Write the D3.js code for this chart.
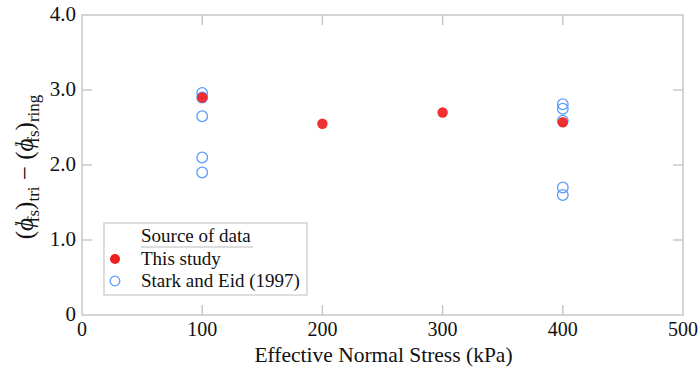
<!DOCTYPE html>
<html>
<head>
<meta charset="utf-8">
<script src="https://cdn.jsdelivr.net/npm/d3@7"></script>
</head>
<body style="margin:0; background:#fff">
<svg id="chart" width="700" height="375"></svg>
<script>
// data
const thisStudyStress = [100, 200, 300, 400];
const thisStudyDiff = [2.9, 2.55, 2.7, 2.57];
const starkStress = [100, 100, 100, 100, 100, 400, 400, 400, 400, 400];
const starkDiff = [2.96, 2.9, 2.65, 2.1, 1.9, 2.81, 2.75, 2.59, 1.7, 1.6];
const xTicks = [0, 100, 200, 300, 400, 500];
const yTicks = [0, 1, 2, 3, 4];

let svg = d3.select("svg#chart");
let mLeft = 82, mRight = 683, mTop = 15, mBottom = 315;

let x = d3.scaleLinear().domain([0, 500]).range([mLeft, mRight]);
let y = d3.scaleLinear().domain([0, 4]).range([mBottom, mTop]);

let frameColor = "#c8c8c8";
let textColor = "#111";
let serif = "Liberation Serif";
let tickLen = 10;

// frame
svg.append("rect")
  .attr("x", mLeft).attr("y", mTop)
  .attr("width", mRight - mLeft).attr("height", mBottom - mTop)
  .attr("fill", "none").attr("stroke", frameColor).attr("stroke-width", 1.5);

// inner ticks, all four sides
xTicks.slice(1, -1).forEach(function(t) {
  svg.append("line").attr("stroke", frameColor).attr("stroke-width", 1.5)
    .attr("x1", x(t)).attr("x2", x(t)).attr("y1", mBottom).attr("y2", mBottom - tickLen);
  svg.append("line").attr("stroke", frameColor).attr("stroke-width", 1.5)
    .attr("x1", x(t)).attr("x2", x(t)).attr("y1", mTop).attr("y2", mTop + tickLen);
});
yTicks.slice(1, -1).forEach(function(t) {
  svg.append("line").attr("stroke", frameColor).attr("stroke-width", 1.5)
    .attr("x1", mLeft).attr("x2", mLeft + tickLen).attr("y1", y(t)).attr("y2", y(t));
  svg.append("line").attr("stroke", frameColor).attr("stroke-width", 1.5)
    .attr("x1", mRight).attr("x2", mRight - tickLen).attr("y1", y(t)).attr("y2", y(t));
});

// tick labels
xTicks.forEach(function(t) {
  svg.append("text")
    .attr("x", x(t)).attr("y", mBottom + 21)
    .attr("font-family", serif)
    .attr("text-anchor", "middle").attr("font-size", 20).attr("fill", textColor)
    .text(t);
});
yTicks.forEach(function(t) {
  svg.append("text")
    .attr("x", mLeft - 6).attr("y", y(t) + 6)
    .attr("font-family", serif)
    .attr("text-anchor", "end").attr("font-size", 21).attr("fill", textColor)
    .text(t == 0 ? "0" : t.toFixed(1));
});

// axis titles
svg.append("text")
  .attr("x", (mLeft + mRight) / 2 + 1).attr("y", 362)
  .attr("font-family", serif)
  .attr("text-anchor", "middle").attr("font-size", 21.5).attr("fill", textColor)
  .text("Effective Normal Stress (kPa)");

let yl = svg.append("text")
  .attr("transform", "translate(33,167) rotate(-90)")
  .attr("font-family", serif)
  .attr("text-anchor", "middle").attr("font-size", 25).attr("fill", textColor);
yl.append("tspan").text("(");
yl.append("tspan").attr("font-style", "italic").text("\u03d5");
yl.append("tspan").attr("font-size", 13).attr("dy", -10).attr("dx", -8).text("\u2032");
yl.append("tspan").attr("font-size", 17).attr("dy", 16).attr("dx", 1).text("fs");
yl.append("tspan").attr("dy", -6).text(")");
yl.append("tspan").attr("font-size", 17).attr("dy", 6).text("tri");
yl.append("tspan").attr("dy", -6).text(" \u2212 (");
yl.append("tspan").attr("font-style", "italic").text("\u03d5");
yl.append("tspan").attr("font-size", 13).attr("dy", -10).attr("dx", -8).text("\u2032");
yl.append("tspan").attr("font-size", 17).attr("dy", 16).attr("dx", 1).text("fs");
yl.append("tspan").attr("dy", -6).text(")");
yl.append("tspan").attr("font-size", 17).attr("dy", 6).text("ring");

// Stark and Eid (1997), open circles
let blue = "#5b9bff";
svg.selectAll("circle.stark")
  .data(starkStress)
  .enter()
  .append("circle")
  .attr("class", "stark")
  .attr("cx", function(d) { return x(d); })
  .attr("cy", function(d, i) { return y(starkDiff[i]); })
  .attr("r", 5.3)
  .attr("fill", "none")
  .attr("stroke", blue)
  .attr("stroke-width", 1.3);

// this study, filled red
let red = "#f01e1e";
svg.selectAll("circle.study")
  .data(thisStudyStress)
  .enter()
  .append("circle")
  .attr("class", "study")
  .attr("cx", function(d) { return x(d); })
  .attr("cy", function(d, i) { return y(thisStudyDiff[i]); })
  .attr("r", 5.2)
  .attr("fill", red)
  .attr("fill-opacity", 0.92);

// legend
let lg = svg.append("g").attr("font-family", serif);
lg.append("rect")
  .attr("x", 104).attr("y", 223).attr("width", 203).attr("height", 72)
  .attr("fill", "#fff").attr("stroke", "#c8c8c8").attr("stroke-width", 1.2);
lg.append("text").attr("x", 141).attr("y", 242).attr("font-family", serif).attr("font-size", 19).attr("fill", textColor).text("Source of data");
lg.append("line").attr("x1", 141).attr("x2", 253).attr("y1", 247).attr("y2", 247)
  .attr("stroke", "#bbb").attr("stroke-width", 1);
lg.append("circle").attr("cx", 115).attr("cy", 259).attr("r", 5).attr("fill", red);
lg.append("text").attr("x", 141).attr("y", 265).attr("font-family", serif).attr("font-size", 19).attr("fill", textColor).text("This study");
lg.append("circle").attr("cx", 115).attr("cy", 281).attr("r", 4.8)
  .attr("fill", "none").attr("stroke", blue).attr("stroke-width", 1.3);
lg.append("text").attr("x", 141).attr("y", 287).attr("font-family", serif).attr("font-size", 19).attr("fill", textColor).text("Stark and Eid (1997)");
</script>
</body>
</html>
